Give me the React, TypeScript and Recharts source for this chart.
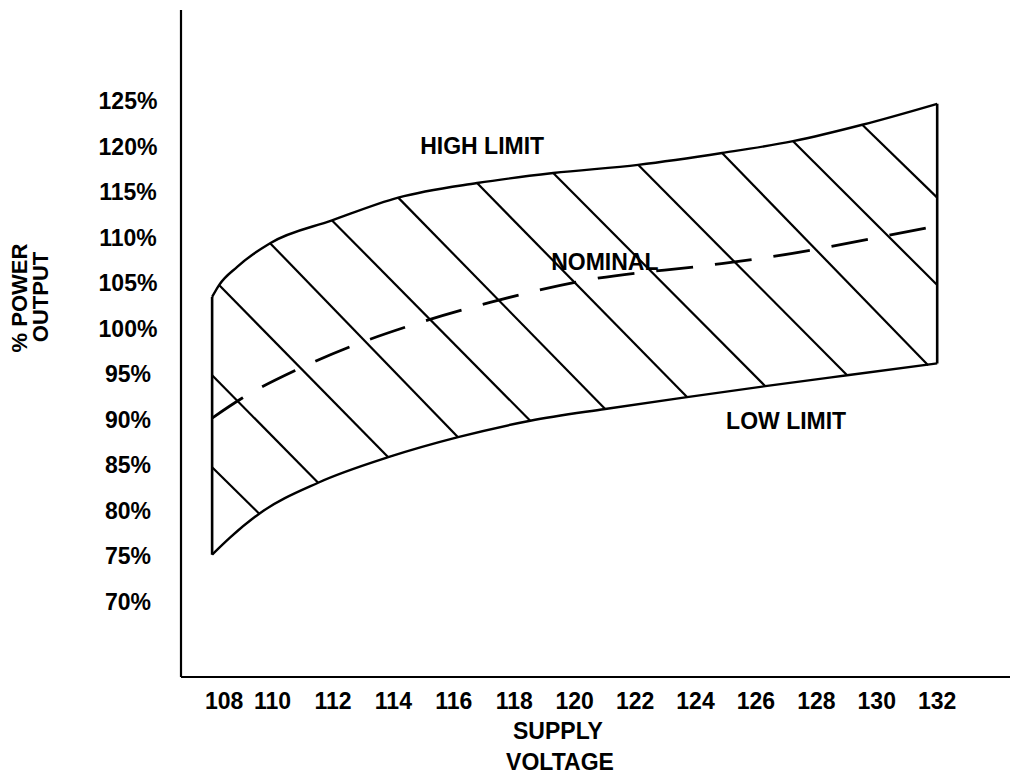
import { ComposedChart, Line, XAxis, YAxis, ReferenceDot, Label } from 'recharts'

// supply voltage (V) vs % power output
const voltTicks = [108, 110, 112, 114, 116, 118, 120, 122, 124, 126, 128, 130, 132]
const pctTicks = [70, 75, 80, 85, 90, 95, 100, 105, 110, 115, 120, 125]

const highLimit = [
  [108, 103.5], [108.23, 104.8], [108.83, 106.8], [109.92, 109.4], [111.97, 111.9],
  [114.16, 114.4], [116.77, 116.0], [119.29, 117.1], [122.1, 118.0], [124.88, 119.3],
  [127.23, 120.6], [129.52, 122.4], [132, 124.7],
]
const lowLimit = [
  [108, 75.2], [108.6, 77.1], [109.56, 79.7], [111.51, 83.1], [113.83, 85.9],
  [116.14, 88.1], [118.53, 89.9], [121.01, 91.2], [123.72, 92.5], [126.31, 93.7],
  [129.02, 94.9], [132, 96.2],
]
const nominal = [
  [108, 90.2], [109, 92.4], [110.8, 95.5], [112.7, 98.2], [114.6, 100.4],
  [117.2, 102.9], [120.5, 105.4], [124.5, 107.0], [126.5, 107.9], [130.3, 110.2], [132, 111.3],
]
const leftEdge = [[108, 75.2], [108, 103.5]]
const rightEdge = [[132, 96.2], [132, 124.7]]

// hatch strokes, top end -> bottom end
const hatch = [
  [[108, 84.8], [109.56, 79.7]],
  [[108, 94.9], [111.51, 83.1]],
  [[108.23, 104.8], [113.83, 85.9]],
  [[109.92, 109.4], [116.14, 88.1]],
  [[111.97, 111.9], [118.53, 89.9]],
  [[114.16, 114.4], [121.01, 91.2]],
  [[116.77, 116.0], [123.72, 92.5]],
  [[119.29, 117.1], [126.31, 93.7]],
  [[122.1, 118.0], [129.02, 94.9]],
  [[124.88, 119.3], [131.7, 96.0]],
  [[127.23, 120.6], [132, 104.8]],
  [[129.52, 122.4], [132, 114.4]],
]

const notes = [
  { text: 'HIGH LIMIT', v: 116.94, p: 120.06 },
  { text: 'NOMINAL', v: 121.0, p: 107.3 },
  { text: 'LOW LIMIT', v: 127.0, p: 89.9 },
]

const pts = (arr: number[][]) => arr.map(([v, p]) => ({ v, p }))

const FONT = '"Liberation Sans", Arial, Helvetica, sans-serif'
const txt = { fontFamily: FONT, fontWeight: 700, fontSize: 23, fill: '#000' }

function XTick({ x, payload }: any) {
  // the 108 label sits a little right of its tick in the original
  const shift = payload.value === 108 ? 12 : 0
  return (
    <text x={x + shift} y={701} textAnchor="middle" dominantBaseline="central" {...txt}>
      {payload.value}
    </text>
  )
}

function YTick({ y, payload }: any) {
  return (
    <text x={128} y={y} textAnchor="middle" dominantBaseline="central" {...txt}>
      {payload.value}%
    </text>
  )
}

function XTitle() {
  return (
    <g>
      <text x={558} y={731} textAnchor="middle" dominantBaseline="central" {...txt}>SUPPLY</text>
      <text x={560} y={762} textAnchor="middle" dominantBaseline="central" {...txt}>VOLTAGE</text>
    </g>
  )
}

function YTitle() {
  return (
    <g>
      <text x={19} y={298} transform="rotate(-90 19 298)" textAnchor="middle" dominantBaseline="central" {...txt} fontSize={22}>
        % POWER
      </text>
      <text x={40} y={297} transform="rotate(-90 40 297)" textAnchor="middle" dominantBaseline="central" {...txt} fontSize={22}>
        OUTPUT
      </text>
    </g>
  )
}

const stroke = { stroke: '#000', dot: false, activeDot: false, isAnimationActive: false } as const

export default function App() {
  return (
    <div style={{ position: 'absolute', left: 0, top: 0, background: '#fff' }}>
      <ComposedChart width={1014} height={774} margin={{ top: 10, right: 4, left: 0, bottom: 0 }}>
        <XAxis
          type="number"
          dataKey="v"
          domain={[106.97, 134.41]}
          ticks={voltTicks}
          tick={<XTick />}
          tickLine={false}
          axisLine={{ stroke: '#000', strokeWidth: 2.2 }}
          height={97}
          allowDataOverflow
        >
          <Label content={<XTitle />} />
        </XAxis>
        <YAxis
          type="number"
          domain={[61.77, 135]}
          ticks={pctTicks}
          tick={<YTick />}
          tickLine={false}
          axisLine={{ stroke: '#000', strokeWidth: 2.2 }}
          width={181}
          allowDataOverflow
        >
          <Label content={<YTitle />} />
        </YAxis>

        <Line data={pts(highLimit)} dataKey="p" type="monotone" strokeWidth={2.4} {...stroke} />
        <Line data={pts(lowLimit)} dataKey="p" type="monotone" strokeWidth={2.4} {...stroke} />
        <Line data={pts(leftEdge)} dataKey="p" type="linear" strokeWidth={2.6} {...stroke} />
        <Line data={pts(rightEdge)} dataKey="p" type="linear" strokeWidth={2.6} {...stroke} />
        {hatch.map((seg, i) => (
          <Line key={'h' + i} data={pts(seg)} dataKey="p" type="linear" strokeWidth={2.2} {...stroke} />
        ))}
        <Line
          data={pts(nominal)}
          dataKey="p"
          type="monotone"
          strokeWidth={2.8}
          strokeDasharray="37 22"
          {...stroke}
        />

        {notes.map((n) => (
          <ReferenceDot
            key={n.text}
            x={n.v}
            y={n.p}
            r={0}
            fill="none"
            stroke="none"
            label={{ value: n.text, position: 'center', ...txt }}
          />
        ))}
      </ComposedChart>
    </div>
  )
}
